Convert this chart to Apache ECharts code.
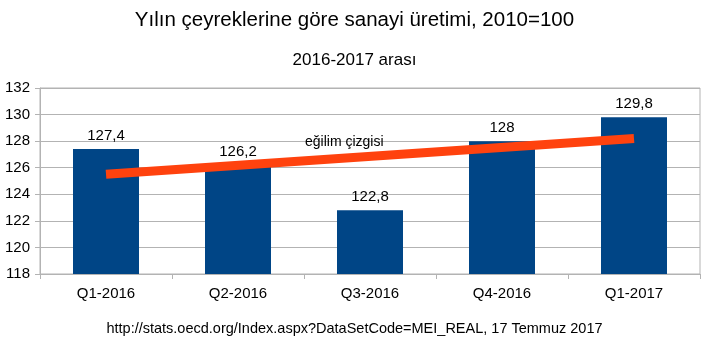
<!DOCTYPE html>
<html>
<head>
<meta charset="utf-8">
<script src="https://cdn.jsdelivr.net/npm/echarts@6/dist/echarts.min.js"></script>
<style>html,body{margin:0;padding:0;background:#fff}#c{width:709px;height:340px}</style>
</head>
<body>
<div id="c"></div>
<script>
const categories = ['Q1-2016', 'Q2-2016', 'Q3-2016', 'Q4-2016', 'Q1-2017'];
const values = [127.4, 126.2, 122.8, 128, 129.8];
const trendValues = [125.5, null, null, null, 128.2];
const yTicks = { min: 118, max: 132, interval: 2 };
const titleText = 'Yılın çeyreklerine göre sanayi üretimi, 2010=100';
const subtitleText = '2016-2017 arası';
const sourceText = 'http://stats.oecd.org/Index.aspx?DataSetCode=MEI_REAL, 17 Temmuz 2017';
const trendLabel = 'eğilim çizgisi';

const font = 'Liberation Sans, Arial, sans-serif';
const chart = echarts.init(document.getElementById('c'), null, { renderer: 'canvas' });
chart.setOption({
  animation: false,
  backgroundColor: '#fff',
  textStyle: { fontFamily: font },
  title: [
    { text: titleText, left: 'center', top: 5, textStyle: { fontFamily: font, fontSize: 20.5, fontWeight: 'normal', color: '#000' } },
    { text: subtitleText, left: 'center', top: 47, textStyle: { fontFamily: font, fontSize: 17, fontWeight: 'normal', color: '#000' } },
    { text: sourceText, left: 'center', top: 316, textStyle: { fontFamily: font, fontSize: 14.5, fontWeight: 'normal', color: '#000' } }
  ],
  grid: { left: 40, right: 9, top: 88, bottom: 66, show: true, borderColor: '#b3b3b3', borderWidth: 1 },
  xAxis: {
    type: 'category',
    data: categories,
    boundaryGap: true,
    axisLine: { lineStyle: { color: '#b3b3b3' } },
    axisTick: { show: true, length: 5, lineStyle: { color: '#b3b3b3' } },
    axisLabel: { color: '#000', fontSize: 15, margin: 12, fontFamily: font }
  },
  yAxis: {
    type: 'value',
    min: yTicks.min, max: yTicks.max, interval: yTicks.interval,
    axisLine: { show: true, lineStyle: { color: '#b3b3b3' } },
    axisTick: { show: true, length: 5, lineStyle: { color: '#b3b3b3' } },
    splitLine: { lineStyle: { color: '#b3b3b3' } },
    axisLabel: { color: '#000', fontSize: 15, margin: 10, fontFamily: font }
  },
  series: [
    {
      type: 'bar',
      data: values,
      barWidth: '50%',
      itemStyle: { color: '#004586' },
      label: {
        show: true, position: 'top', distance: 6, color: '#000', fontSize: 15, fontFamily: font,
        formatter: p => String(p.value).replace('.', ',')
      },
      z: 2
    },
    {
      type: 'line',
      data: trendValues,
      connectNulls: true,
      symbol: 'none',
      lineStyle: { color: '#ff420e', width: 9, cap: 'butt' },
      z: 5
    }
  ],
  graphic: [
    { type: 'text', left: 305, top: 135, style: { text: trendLabel, fontSize: 14, fontFamily: font, fill: '#000' }, z: 10 }
  ]
});
</script>
</body>
</html>
